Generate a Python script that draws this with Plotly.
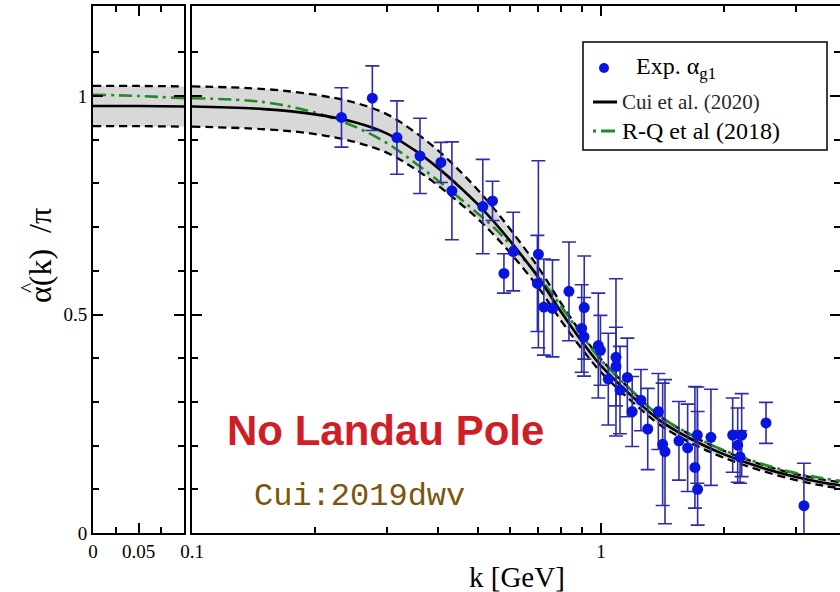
import plotly.graph_objects as go

# ---- measured effective charge (Exp. alpha_g1) ----
k_exp = [0.232, 0.276, 0.317, 0.361, 0.406, 0.432, 0.514, 0.543, 0.579, 0.610,
         0.703, 0.699, 0.725, 0.761, 0.835, 0.910, 0.897, 0.909, 0.985, 0.997,
         1.088, 1.088, 1.042, 1.160, 1.113, 1.252, 1.192, 1.381, 1.301, 1.415,
         1.434, 1.551, 1.629, 1.720, 1.697, 1.723, 1.857, 2.099, 2.159, 2.208,
         2.188, 2.532, 3.135]
alpha_exp = [0.951, 0.995, 0.905, 0.863, 0.848, 0.783, 0.747, 0.760, 0.594, 0.644,
             0.638, 0.571, 0.517, 0.514, 0.553, 0.516, 0.468, 0.449, 0.429, 0.418,
             0.402, 0.381, 0.352, 0.356, 0.327, 0.304, 0.278, 0.278, 0.238, 0.203,
             0.186, 0.211, 0.195, 0.224, 0.150, 0.100, 0.219, 0.224, 0.201, 0.224,
             0.174, 0.252, 0.0625]
err_plus = [0.068, 0.074, 0.084, 0.086, 0.046, 0.112, 0.108, 0.045, 0.045, 0.090,
            0.214, 0.110, 0.110, 0.111, 0.113, 0.118, 0.100, 0.090, 0.120, 0.080,
            0.180, 0.090, 0.105, 0.090, 0.100, 0.070, 0.080, 0.087, 0.093, 0.140,
            0.165, 0.090, 0.100, 0.110, 0.185, 0.178, 0.110, 0.085, 0.085, 0.095,
            0.060, 0.047, 0.097]
err_minus = [0.068, 0.074, 0.084, 0.086, 0.046, 0.112, 0.108, 0.045, 0.045, 0.090,
             0.214, 0.110, 0.110, 0.111, 0.113, 0.118, 0.100, 0.090, 0.120, 0.080,
             0.180, 0.090, 0.105, 0.090, 0.100, 0.070, 0.080, 0.087, 0.093, 0.140,
             0.165, 0.090, 0.100, 0.110, 0.093, 0.082, 0.110, 0.085, 0.085, 0.095,
             0.060, 0.047, 0.097]

# ---- infrared panel (linear k, 0 .. 0.1 GeV) ----
k_ir = [0.0, 0.05, 0.1]
cui_ir = [0.977, 0.977, 0.976]
cui_ir_up = [1.023, 1.023, 1.022]
cui_ir_lo = [0.931, 0.931, 0.930]
rq_ir = [1.003, 1.000, 0.995]

# ---- main panel (log k, 0.1 .. 4 GeV) ----
k_th = [0.1, 0.15, 0.2, 0.25, 0.3, 0.35, 0.4, 0.45, 0.5, 0.55, 0.6, 0.7,
        0.8, 0.9, 1.0, 1.2, 1.4, 1.7, 2.0, 2.5, 3.0, 3.5, 4.0]
cui = [0.976, 0.970, 0.958, 0.940, 0.914, 0.876, 0.835, 0.793, 0.752, 0.710,
       0.668, 0.587, 0.505, 0.437, 0.383, 0.310, 0.256, 0.210, 0.180, 0.148,
       0.128, 0.115, 0.107]
cui_up = [1.022, 1.016, 1.003, 0.985, 0.958, 0.918, 0.875, 0.830, 0.785, 0.740,
          0.695, 0.610, 0.525, 0.454, 0.398, 0.322, 0.266, 0.219, 0.188, 0.155,
          0.135, 0.122, 0.114]
cui_lo = [0.930, 0.924, 0.913, 0.895, 0.870, 0.834, 0.795, 0.756, 0.719, 0.680,
          0.641, 0.564, 0.485, 0.420, 0.368, 0.298, 0.246, 0.201, 0.172, 0.141,
          0.121, 0.108, 0.100]
rq = [0.995, 0.986, 0.962, 0.930, 0.892, 0.848, 0.806, 0.767, 0.731, 0.697,
      0.660, 0.590, 0.518, 0.451, 0.396, 0.322, 0.266, 0.220, 0.189, 0.157,
      0.137, 0.125, 0.117]

y_ticks = [0, 0.5, 1]
y_tick_text = ["0", "0.5", "1"]
y_minor = [0.1, 0.2, 0.3, 0.4, 0.6, 0.7, 0.8, 0.9, 1.1]

W, H = 840, 592
SERIF = "Liberation Serif"
BAND = "rgb(216,216,216)"
GREEN = "rgb(34,138,34)"
BLUE = "rgb(10,20,225)"
BARBLUE = "rgb(45,45,170)"


def px(x):
    return x / W


def py(y):
    return 1 - y / H


fig = go.Figure()


def add_theory(xs, mid, up, lo, green, xa, ya):
    fig.add_trace(go.Scatter(x=xs, y=up, mode="lines", line=dict(width=0, shape="spline"),
                             xaxis=xa, yaxis=ya, hoverinfo="skip"))
    fig.add_trace(go.Scatter(x=xs, y=lo, mode="lines", line=dict(width=0, shape="spline"),
                             fill="tonexty", fillcolor=BAND, xaxis=xa, yaxis=ya,
                             hoverinfo="skip"))
    for band in (up, lo):
        fig.add_trace(go.Scatter(x=xs, y=band, mode="lines",
                                 line=dict(color="black", width=2.3, dash="8px,5px",
                                           shape="spline"),
                                 xaxis=xa, yaxis=ya))
    fig.add_trace(go.Scatter(x=xs, y=green, mode="lines",
                             line=dict(color=GREEN, width=2.6, dash="13px,5px,3px,5px",
                                       shape="spline"),
                             xaxis=xa, yaxis=ya))
    fig.add_trace(go.Scatter(x=xs, y=mid, mode="lines",
                             line=dict(color="black", width=2.6, shape="spline"),
                             xaxis=xa, yaxis=ya))


add_theory(k_ir, cui_ir, cui_ir_up, cui_ir_lo, rq_ir, "x", "y")
add_theory(k_th, cui, cui_up, cui_lo, rq, "x2", "y2")

fig.add_trace(go.Scatter(
    x=k_exp, y=alpha_exp, mode="markers", xaxis="x2", yaxis="y2",
    marker=dict(color=BLUE, size=11),
    error_y=dict(type="data", array=err_plus, arrayminus=err_minus,
                 color=BARBLUE, thickness=1.6, width=7),
))

axis_common = dict(
    showline=True, linecolor="black", linewidth=2, mirror="allticks",
    ticks="inside", ticklen=10, tickwidth=1.5, tickcolor="black",
    showgrid=False, zeroline=False, automargin=False,
    tickfont=dict(family=SERIF, size=19, color="black"),
)
minor_common = dict(ticks="inside", ticklen=6, tickwidth=1.5, tickcolor="black",
                    showgrid=False)

ydom = [1 - 533 / H, 1 - 6 / H]
yrange = [0, 1.206]

fig.update_layout(
    template="none",
    width=W, height=H, margin=dict(l=0, r=0, t=0, b=0, autoexpand=False),
    paper_bgcolor="white", plot_bgcolor="white", showlegend=False,
    xaxis=dict(axis_common, domain=[px(93), px(184)], range=[0, 0.1],
               tickvals=[0, 0.05, 0.1], ticktext=["0", "0.05", ""],
               minor=dict(minor_common, tickvals=[0.025, 0.075]), anchor="y"),
    xaxis2=dict(axis_common, domain=[px(192), 1], type="log",
                range=[-1, 0.5844], tickvals=[0.1, 1], ticktext=["0.1", "1"],
                minor=dict(minor_common,
                           tickvals=[0.2, 0.3, 0.4, 0.5, 0.6, 0.7, 0.8, 0.9, 2, 3]),
                anchor="y2"),
    yaxis=dict(axis_common, domain=ydom, range=yrange, tickvals=y_ticks,
               ticktext=y_tick_text, minor=dict(minor_common, tickvals=y_minor),
               anchor="x"),
    yaxis2=dict(axis_common, domain=ydom, range=yrange, tickvals=y_ticks,
                showticklabels=False, minor=dict(minor_common, tickvals=y_minor),
                anchor="x2"),
)


def label(x, y, text, font, xanchor="center", angle=0):
    fig.add_annotation(x=px(x), y=py(y), xref="paper", yref="paper", showarrow=False,
                       xanchor=xanchor, yanchor="middle", text=text, font=font,
                       textangle=angle)


# axis titles and labels
label(517, 577, "k [GeV]", dict(family=SERIF, size=29, color="black"))
label(40, 256, "\u03b1(k)  /\u03c0", dict(family=SERIF, size=32, color="black"), angle=-90)
label(27, 287, "^", dict(family=SERIF, size=22, color="black"), angle=-90)
label(385, 430, "<b>No Landau Pole</b>",
      dict(family="Liberation Sans", size=42, color="rgb(208,30,38)"))
label(359, 497, "Cui:2019dwv",
      dict(family="Liberation Mono", size=32, color="rgb(122,86,12)"))

# legend box
fig.add_shape(type="rect", xref="paper", yref="paper", x0=px(583), x1=px(827),
              y0=py(150), y1=py(42), line=dict(color="black", width=1.5),
              fillcolor="white", layer="above")
fig.add_shape(type="circle", xref="paper", yref="paper", x0=px(599), x1=px(609),
              y0=py(73), y1=py(63), line=dict(color=BLUE, width=0), fillcolor=BLUE,
              layer="above")
fig.add_shape(type="line", xref="paper", yref="paper", x0=px(593), x1=px(617),
              y0=py(102), y1=py(102), line=dict(color="black", width=3), layer="above")
fig.add_shape(type="line", xref="paper", yref="paper", x0=px(593), x1=px(617),
              y0=py(131), y1=py(131), line=dict(color=GREEN, width=3, dash="3px,5px,14px,2px"),
              layer="above")
label(634, 68, "Exp. \u03b1<sub>g1</sub>", dict(family=SERIF, size=24, color="black"),
      xanchor="left")
label(620, 102, "Cui et al. (2020)", dict(family=SERIF, size=21, color="rgb(40,40,40)"),
      xanchor="left")
label(620, 131, "R-Q et al (2018)", dict(family=SERIF, size=24, color="black"),
      xanchor="left")

fig.write_html("out.html")
